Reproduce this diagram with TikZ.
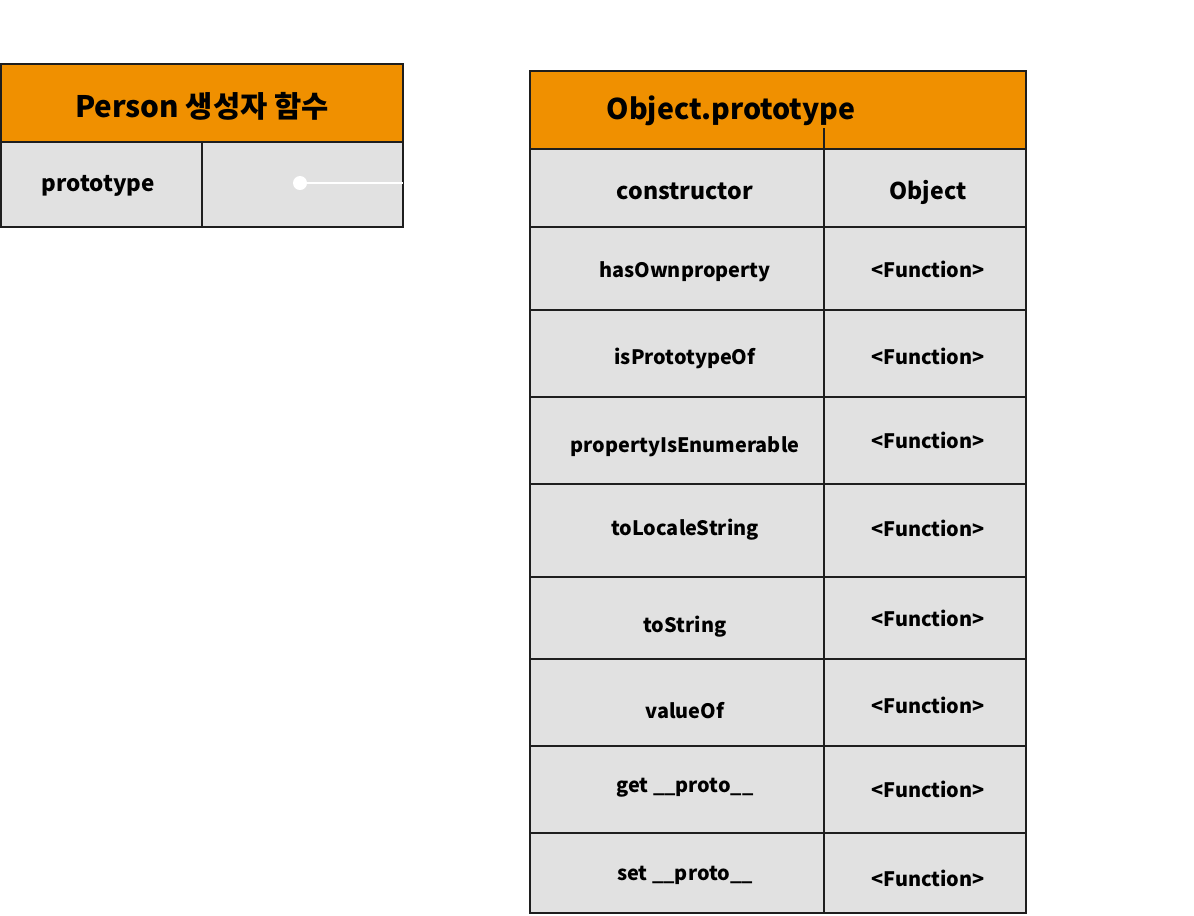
\documentclass[tikz,border=0pt]{standalone}
\usepackage{fontspec}
\setmainfont{Noto Sans CJK KR}
\usetikzlibrary{positioning}
\definecolor{headorange}{HTML}{F09000}
\definecolor{cellgray}{HTML}{E1E1E1}
\definecolor{rulegray}{HTML}{1E1E1E}
\newlength\pxl \setlength\pxl{0.75pt}
% text moved right by #1 and up by #2 inside its cell
\newcommand\celltext[3]{\raisebox{#2}[\height][\depth]{\hspace*{#1}#3\hspace*{-#1}}}
\tikzstyle{cell} = [rectangle, draw=rulegray, line width=1.1pt, fill=cellgray,
	inner sep=0pt, outer sep=0pt, font=\bfseries\fontsize{14.9}{18}\selectfont]
\tikzstyle{head} = [cell, fill=headorange, minimum height=58.5pt]
\tikzstyle{title} = [inner sep=0pt, font=\bfseries\fontsize{22.2}{26}\selectfont]
\tikzstyle{keycell} = [cell, minimum width=220.5pt]
\tikzstyle{valcell} = [cell, minimum width=151.5pt]
\tikzstyle{big} = [font=\bfseries\fontsize{17.3}{21}\selectfont]
\tikzstyle{line} = [draw=white, line width=1.5pt]

\begin{document}
\begin{tikzpicture}[x=0.75pt, y=-0.75pt, node distance=0pt]
	\useasboundingbox (0,0) rectangle (1194,915);
	% Person constructor
	\node [head, minimum width=301.5pt] (personhead) at (202,103) {};
	\node [title] (persontitle) at (202,106) {Person 생성자 함수};
	\node [cell, minimum width=150.75pt, minimum height=63.75pt, anchor=north west, font=\bfseries\fontsize{16.8}{20}\selectfont] (protokey) at (personhead.south west) {\celltext{-3\pxl}{-1\pxl}{prototype}};
	\node [cell, minimum width=150.75pt, minimum height=63.75pt, right=of protokey] (protoval) {};
	% Object.prototype
	\node [head, minimum width=372pt] (objhead) at (778,110) {};
	\node [title, font=\bfseries\fontsize{21.4}{26}\selectfont] (objtitle) at (731,111) {Object.prototype};
	\node [keycell, big, minimum height=58.5pt, anchor=north west] (k1) at (objhead.south west) {\celltext{8\pxl}{-3\pxl}{constructor}};
	\node [keycell, minimum height=62.25pt, below=of k1] (k2) {\celltext{8\pxl}{-3\pxl}{hasOwnproperty}};
	\node [keycell, minimum height=65.25pt, below=of k2] (k3) {\celltext{8\pxl}{-5\pxl}{isPrototypeOf}};
	\node [keycell, minimum height=65.25pt, below=of k3] (k4) {\celltext{8\pxl}{-6\pxl}{propertyIsEnumerable}};
	\node [keycell, minimum height=69.75pt, below=of k4] (k5) {\celltext{8\pxl}{1\pxl}{toLocaleString}};
	\node [keycell, minimum height=61.5pt, below=of k5] (k6) {\celltext{8\pxl}{-9\pxl}{toString}};
	\node [keycell, minimum height=65.25pt, below=of k6] (k7) {\celltext{8\pxl}{-8\pxl}{valueOf}};
	\node [keycell, minimum height=65.25pt, below=of k7] (k8) {\celltext{8\pxl}{2\pxl}{get \_\_proto\_\_}};
	\node [keycell, minimum height=60pt, below=of k8] (k9) {\celltext{8\pxl}{-2\pxl}{set \_\_proto\_\_}};
	\node [valcell, big, minimum height=58.5pt, right=of k1] (v1) {\celltext{3\pxl}{-4\pxl}{Object}};
	\node [valcell, minimum height=62.25pt, right=of k2] (v2) {\celltext{3\pxl}{-1\pxl}{<Function>}};
	\node [valcell, minimum height=65.25pt, right=of k3] (v3) {\celltext{3\pxl}{-3\pxl}{<Function>}};
	\node [valcell, minimum height=65.25pt, right=of k4] (v4) {\celltext{3\pxl}{0\pxl}{<Function>}};
	\node [valcell, minimum height=69.75pt, right=of k5] (v5) {\celltext{3\pxl}{2\pxl}{<Function>}};
	\node [valcell, minimum height=61.5pt, right=of k6] (v6) {\celltext{3\pxl}{0\pxl}{<Function>}};
	\node [valcell, minimum height=65.25pt, right=of k7] (v7) {\celltext{3\pxl}{-3\pxl}{<Function>}};
	\node [valcell, minimum height=65.25pt, right=of k8] (v8) {\celltext{3\pxl}{0\pxl}{<Function>}};
	\node [valcell, minimum height=60pt, right=of k9] (v9) {\celltext{3\pxl}{-5\pxl}{<Function>}};
	% Draw edges
	\draw [rulegray, line width=1.1pt] (k1.north east) -- ++(0,-21);
	\coordinate (dot) at (300,183);
	\path [line] (dot) -- (dot -| protoval.east);
	\fill [white] (dot) circle (7);
\end{tikzpicture}
\end{document}
